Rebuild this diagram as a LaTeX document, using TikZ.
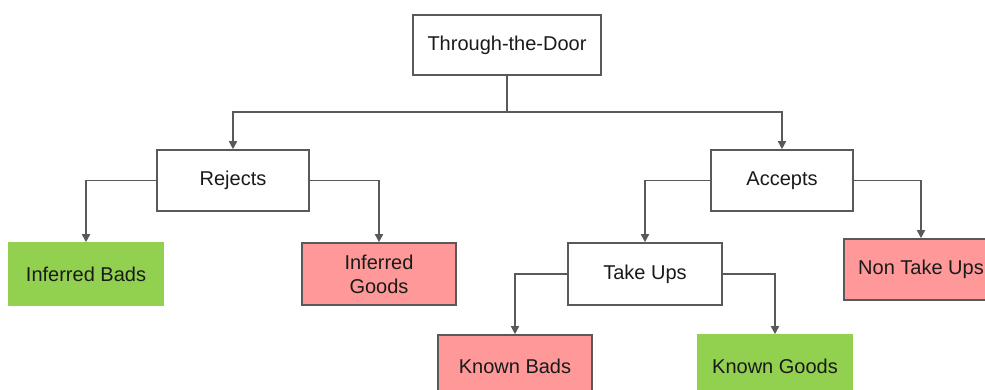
\documentclass[tikz,border=0pt]{standalone}
\usepackage{fontspec}
\setmainfont{Liberation Sans}
\usetikzlibrary{arrows.meta}
\definecolor{goodgreen}{HTML}{92D050}
\definecolor{badpink}{HTML}{FF9999}
\definecolor{edgegray}{HTML}{595959}
\definecolor{txt}{HTML}{1A1A1A}
\tikzset{
  box/.style={draw=edgegray, line width=1.6pt, fill=white, minimum width=154pt, minimum height=62pt,
    inner sep=0pt, align=center, text=txt, font=\fontsize{20}{24}\selectfont},
  greenbox/.style={box, draw=goodgreen, fill=goodgreen},
  pinkbox/.style={box, fill=badpink},
  conn/.style={draw=edgegray, line width=1.6pt},
  arr/.style={conn, -{Triangle[length=8pt,width=8pt]}}
}
\begin{document}
\begin{tikzpicture}[x=1pt,y=-1pt]
\clip (0,0) rectangle (985,390);
\fill[white] (0,0) rectangle (985,390);
\node[box, minimum width=188pt, minimum height=60pt] (door) at (507,45) {Through-the-Door};
\node[box, minimum width=152pt, minimum height=61pt] (rej) at (233,180.5) {Rejects};
\node[box, minimum width=142pt, minimum height=61pt] (acc) at (782,180.5) {Accepts};
\node[greenbox] (ib) at (86,274) {Inferred Bads};
\node[pinkbox] (ig) at (379,274) {Inferred\\Goods};
\node[box] (tu) at (645,274) {Take Ups};
\node[pinkbox, minimum height=61pt] (ntu) at (921,269.5) {Non Take Ups};
\node[pinkbox] (kb) at (515,366) {Known Bads};
\node[greenbox] (kg) at (775,366) {Known Goods};
\coordinate (j) at (507,112);
\draw[conn] (door.south) -- (j);
\draw[arr] (j) -| (rej.north);
\draw[arr] (j) -| (acc.north);
\draw[arr] (rej.west) -| (ib.north);
\draw[arr] (rej.east) -| (ig.north);
\draw[arr] (acc.west) -| (tu.north);
\draw[arr] (acc.east) -| (ntu.north);
\draw[arr] (tu.west) -| (kb.north);
\draw[arr] (tu.east) -| (kg.north);
\end{tikzpicture}
\end{document}
